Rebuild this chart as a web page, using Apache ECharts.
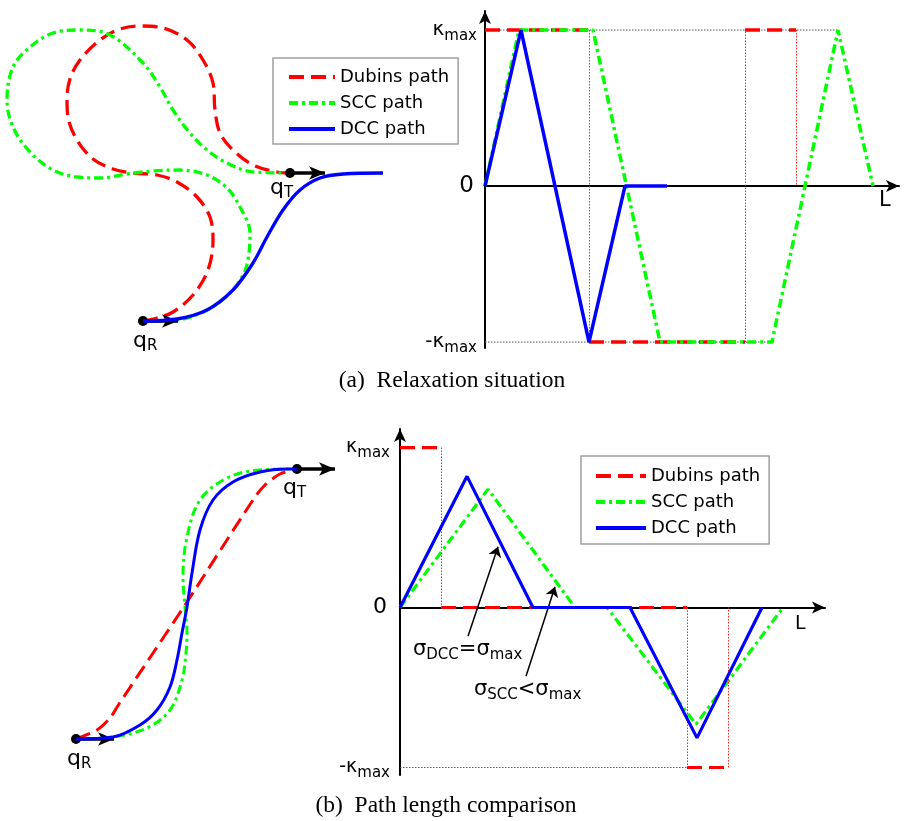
<!DOCTYPE html>
<html>
<head>
<meta charset="utf-8">
<title>Dubins, SCC and DCC paths</title>
<script src="https://cdn.jsdelivr.net/npm/echarts@6/dist/echarts.min.js"></script>
<style>
  html, body { margin: 0; padding: 0; background: #fff; }
  #chart { width: 908px; height: 821px; }
</style>
</head>
<body>
<div id="chart"></div>
<script>
// (a) relaxation situation -- path shapes, origin at q_R, y up
const dubinsPathA = [[0,0],[14,3],[30,9],[50,26],[65,51],[70,81],[67,104],[54,124],[34,139],[14,146],[-10,148],[-30,152],[-50,162],[-66,181],[-75,204],[-76,222],[-73,242],[-63,261],[-43,281],[-23,292],[-3,295],[20,293],[44,281],[60,261],[70,238],[72,211],[77,188],[90,171],[110,156],[134,149],[147,148]];
const sccPathA = [[0,0],[34,1],[64,11],[87,28],[100,46],[105,61],[107,88],[97,114],[84,133],[64,146],[37,151],[10,150],[-16,147],[-43,143],[-66,144],[-90,151],[-113,169],[-130,194],[-136,221],[-130,254],[-113,274],[-90,288],[-63,291],[-33,286],[0,258],[17,234],[30,211],[47,188],[64,171],[84,158],[110,149],[147,148]];
const dccPathA = [[0,0],[34,2],[64,11],[90,31],[110,58],[124,84],[140,111],[157,131],[177,143],[200,147],[240,148]];
const qA = [[0, 0], [147, 148]];          // q_R, q_T
const arrowLenA = 35;

// (a) curvature profiles: s = arc length, k = curvature / kmax
const dubinsKA = [[0, 10.4, 1], [10.4, 26.0, -1], [26.0, 31.1, 1]];   // [from, to, k]
const sccKA = [[0,0],[3.4,1],[10.8,1],[17.5,-1],[28.7,-1],[35.3,1],[38.8,0]];
const dccKA = [[0,0],[3.6,1],[10.4,-1],[14.0,0],[18.2,0]];
const guidesA = [[1, 35.3], [-1, 28.7]];                              // [k, end]

// (b) path length comparison -- path shapes
const dubinsPathB = [[0,0],[21,9],[34,21],[43,35],[109,134],[177,239],[189,254],[204,265],[221,270]];
const sccPathB = [[0,0],[37,2],[71,11],[94,29],[106,59],[110,86],[111,106],[109,132],[107,162],[111,202],[124,239],[151,261],[184,269],[221,270]];
const dccPathB = [[0,0],[37,2],[64,14],[81,29],[94,52],[101,79],[106,106],[111,132],[116,166],[124,209],[137,239],[157,257],[184,267],[211,270],[221,270]];
const qB = [[0, 0], [221, 270]];
const arrowLenB = 38;

// (b) curvature profiles
const dubinsKB = [[0, 4.1, 1], [4.1, 28.7, 0], [28.7, 32.8, -1]];
const sccKB = [[0,0],[8.8,0.74],[17.5,0],[20.7,0],[29.6,-0.73],[38.3,0]];
const dccKB = [[0,0],[6.7,0.82],[13.3,0],[23.0,0],[29.7,-0.815],[36.2,0]];
const guidesB = [[-1, 28.7]];
const sigmaArrowsB = [[[6.8,-0.18],[9.8,0.38]], [[12.6,-0.43],[15.5,0.13]]];

const yTicks = [-1, 0, 1];
const names = ['Dubins path', 'SCC path', 'DCC path'];

const FONT = 'DejaVu Sans';
const RED = '#ff0000', GREEN = '#00ff00', BLUE = '#0000ff';

function dubStyle(w) { return { color: RED, width: w, type: [15, 7] }; }
function sccStyle(w) { return { color: GREEN, width: w, type: [9, 4, 3, 4] }; }
function dccStyle(w) { return { color: BLUE, width: w, type: 'solid' }; }

function lineS(name, gi, data, style, z, extra) {
  return Object.assign({
    type: 'line', name: name, xAxisIndex: gi, yAxisIndex: gi, data: data,
    symbol: 'none', lineStyle: style, itemStyle: { color: style.color },
    z: z, silent: true, animation: false
  }, extra || {});
}

function poseArrows(q, len) {
  return {
    silent: true, animation: false,
    symbol: ['circle', 'arrow'], symbolSize: [10, 16],
    label: { show: false },
    lineStyle: { color: '#000', width: 3.5, type: 'solid' },
    itemStyle: { color: '#000' },
    data: q.map(p => [{ coord: p }, { coord: [p[0] + len, p[1]] }])
  };
}

function dubinsSteps(gi, segs, w) {
  const out = segs.map(([a, b, k]) => lineS('Dubins path', gi, [[a, k], [b, k]], dubStyle(w), 3));
  // thin dotted jumps between constant curvature pieces
  const jumps = segs.map(([a, b, k], i) => {
    const next = i + 1 < segs.length ? segs[i + 1][2] : 0;
    return [{ coord: [b, k] }, { coord: [b, next] }];
  });
  out[0].markLine = {
    silent: true, animation: false, symbol: 'none', label: { show: false },
    lineStyle: { color: '#ff2020', width: 1, type: [1.5, 1.5] },
    data: jumps
  };
  return out;
}

function guideS(gi, guides) {
  return guides.map(([k, end]) => lineS('guide', gi, [[0, k], [end, k]],
    { color: '#555', width: 1, type: [1.5, 1.5] }, 1));
}

const series = [
  // (a) paths
  lineS('Dubins path', 0, dubinsPathA, dubStyle(3.3), 3, { smooth: 0.35 }),
  lineS('SCC path', 0, sccPathA, sccStyle(3.3), 4, { smooth: 0.35 }),
  lineS('DCC path', 0, dccPathA, dccStyle(3.3), 5, { smooth: 0.35, markLine: poseArrows(qA, arrowLenA) }),
  // (a) curvature
  ...guideS(1, guidesA),
  ...dubinsSteps(1, dubinsKA, 3.5),
  lineS('SCC path', 1, sccKA, sccStyle(3.5), 4),
  lineS('DCC path', 1, dccKA, dccStyle(3.5), 5),
  // (b) paths
  lineS('Dubins path', 2, dubinsPathB, dubStyle(3), 3, { smooth: 0.3 }),
  lineS('SCC path', 2, sccPathB, sccStyle(3), 4, { smooth: 0.35 }),
  lineS('DCC path', 2, dccPathB, dccStyle(3), 5, { smooth: 0.35, markLine: poseArrows(qB, arrowLenB) }),
  // (b) curvature
  ...guideS(3, guidesB),
  ...dubinsSteps(3, dubinsKB, 3.2),
  lineS('SCC path', 3, sccKB, sccStyle(3.2), 4),
  lineS('DCC path', 3, dccKB, dccStyle(3.2), 5, {
    markLine: {
      silent: true, animation: false, symbol: ['none', 'arrow'], symbolSize: 10,
      label: { show: false },
      lineStyle: { color: '#000', width: 1.5, type: 'solid' },
      data: sigmaArrowsB.map(([a, b]) => [{ coord: a }, { coord: b }])
    }
  })
];

function kLabels(kSize, sSize, zSize, margin) {
  return {
    customValues: yTicks, margin: margin, color: '#000',
    formatter: v => v === 0 ? '{z|0}' : '{k|' + (v < 0 ? '-κ' : 'κ') + '}{s|max}',
    rich: {
      k: { fontFamily: FONT, fontSize: kSize, color: '#000' },
      s: { fontFamily: FONT, fontSize: sSize, color: '#000', padding: [12, 0, 0, 0] },
      z: { fontFamily: FONT, fontSize: zSize, color: '#000', padding: [0, 3, 0, 0] }
    }
  };
}

function kAxes(gi, xmax, ymin, ymax, labels) {
  const line = { show: true, onZero: true, symbol: ['none', 'arrow'], symbolSize: [9, 13],
                 lineStyle: { color: '#000', width: 2 } };
  return [
    { gridIndex: gi, type: 'value', min: 0, max: xmax, axisLine: line,
      axisTick: { show: false }, axisLabel: { show: false }, splitLine: { show: false } },
    { gridIndex: gi, type: 'value', min: ymin, max: ymax, axisLine: line,
      axisTick: { show: false }, axisLabel: labels, splitLine: { show: false } }
  ];
}
function pathAxes(gi, xmin, xmax, ymin, ymax) {
  return [
    { gridIndex: gi, type: 'value', min: xmin, max: xmax, show: false },
    { gridIndex: gi, type: 'value', min: ymin, max: ymax, show: false }
  ];
}

const axA1 = pathAxes(0, -143, 317, -39, 321);
const axA2 = kAxes(1, 41.4, -1.038, 1.122, kLabels(20, 15, 23, 8));
const axB1 = pathAxes(2, -76, 314, -41, 319);
const axB2 = kAxes(3, 42.5, -1.047, 1.116, kLabels(19, 15, 22, 10));

function legendAt(left, top, pad, w) {
  return {
    data: names, orient: 'vertical', left: left, top: top, padding: pad,
    itemWidth: w, itemHeight: 14, itemGap: 8, itemTextGap: 10,
    selectedMode: false,
    // line sample only, no marker in the middle
    itemStyle: { color: 'rgba(0,0,0,0)', borderWidth: 0, opacity: 0 },
    lineStyle: { width: 4 },
    borderColor: '#a0a0a0', borderWidth: 1.5, backgroundColor: '#fff',
    textStyle: { fontFamily: FONT, fontSize: 18, color: '#000' }
  };
}

function sub(main, s, mSize, sSize, shift) {
  return {
    text: '{m|' + main + '}{s|' + s + '}',
    rich: {
      m: { fontFamily: FONT, fontSize: mSize, fill: '#000', color: '#000' },
      s: { fontFamily: FONT, fontSize: sSize, fill: '#000', color: '#000', padding: [shift, 0, 0, 0] }
    }
  };
}
function txt(x, y, style, align) {
  return {
    type: 'text', x: x, y: y, silent: true,
    style: Object.assign({ fill: '#000', align: align || 'left', verticalAlign: 'middle',
                           textAlign: align || 'left', textVerticalAlign: 'middle' }, style)
  };
}
function sigmaLabel(s, op, x, y) {
  return txt(x, y, {
    text: '{m|σ}{s|' + s + '}{m|' + op + 'σ}{s|max}',
    rich: {
      m: { fontFamily: FONT, fontSize: 21, fill: '#000' },
      s: { fontFamily: FONT, fontSize: 15, fill: '#000', padding: [11, 0, 0, 0] }
    }
  });
}

const graphics = [
  txt(133, 341, sub('q', 'R', 22, 15, 11)),
  txt(270, 188, sub('q', 'T', 22, 15, 11)),
  txt(67, 759, sub('q', 'R', 22, 15, 11)),
  txt(283, 488, sub('q', 'T', 22, 15, 11)),
  txt(879, 201, { text: 'L', fontFamily: FONT, fontSize: 21 }),
  txt(795, 624, { text: 'L', fontFamily: FONT, fontSize: 19 }),
  sigmaLabel('DCC', '=', 413, 650),
  sigmaLabel('SCC', '<', 474, 690),
  txt(452, 381, { text: '(a)\u2002Relaxation situation', fontFamily: 'Liberation Serif', fontSize: 23.5 }, 'center'),
  txt(446, 806, { text: '(b)\u2002Path length comparison', fontFamily: 'Liberation Serif', fontSize: 23.5 }, 'center')
];

const chart = echarts.init(document.getElementById('chart'), null, { renderer: 'canvas' });
chart.setOption({
  animation: false,
  backgroundColor: '#fff',
  textStyle: { fontFamily: FONT },
  grid: [
    { left: 0, top: 0, width: 460, height: 360 },
    { left: 485, top: 11, width: 414, height: 337 },
    { left: 0, top: 420, width: 390, height: 360 },
    { left: 400, top: 429, width: 425, height: 346 }
  ],
  xAxis: [axA1[0], axA2[0], axB1[0], axB2[0]],
  yAxis: [axA1[1], axA2[1], axB1[1], axB2[1]],
  legend: [legendAt(273, 58, [10, 9, 6, 14], 46), legendAt(581, 456, [11, 9, 7, 13], 50)],
  graphic: graphics,
  series: series
});
</script>
</body>
</html>
